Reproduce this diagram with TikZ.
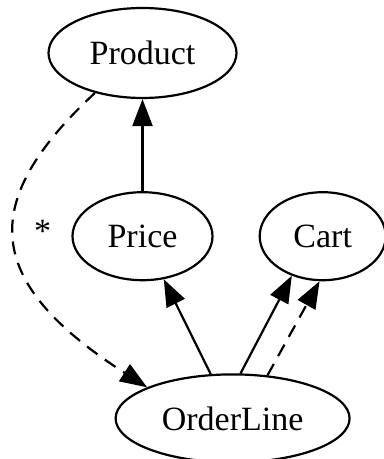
\documentclass[tikz,border=0pt]{standalone}
\usepackage{fontspec}
\setmainfont{Liberation Serif}
\usetikzlibrary{shapes.geometric,arrows.meta,positioning,calc}

\begin{document}
\begin{tikzpicture}[x=0.5pt, y=-0.5pt, >={Triangle[length=13.5pt, width=10pt]}]
        \tikzset{
            cls/.style={draw, ellipse, inner sep=0pt, line width=1.1pt, minimum height=44pt, font=\fontsize{17}{20}\selectfont},
            link/.style={->, line width=1.1pt},
            dep/.style={->, line width=1.1pt, dash pattern=on 6.5pt off 4.5pt},
        }
        \useasboundingbox (0,0) rectangle (384,459);
        
        % Product
        \node [cls, minimum width=94pt, minimum height=45pt] (product) at (142.5,53) {Product};
        
        % Price
        \node [cls, minimum width=70pt, below=46pt of product] (price) {Price};
        
        % Cart
        \node [cls, minimum width=63pt, right=22.5pt of price] (cart) {Cart};
        
        % OrderLine
        \coordinate (mid) at ($(price.south)!0.5!(cart.south)$);
        \node [cls, minimum width=117pt, below=46pt of mid] (orderline) {OrderLine};
        
        % Connections
        \draw [link] (price) -- (product);
        \draw [link] (orderline) -- (price);
        \draw [link] (orderline.80) -- (cart.232);
        \draw [dep] (orderline.51) -- (cart.266);
        
        % Product to OrderLine, curved
        \draw [dep] (product.220) .. controls (-20,200) and (-20,280) .. (orderline.160)
            node [pos=0.47, right=6pt, font=\fontsize{17}{20}\selectfont] (star) {*};
    \end{tikzpicture}
\end{document}
